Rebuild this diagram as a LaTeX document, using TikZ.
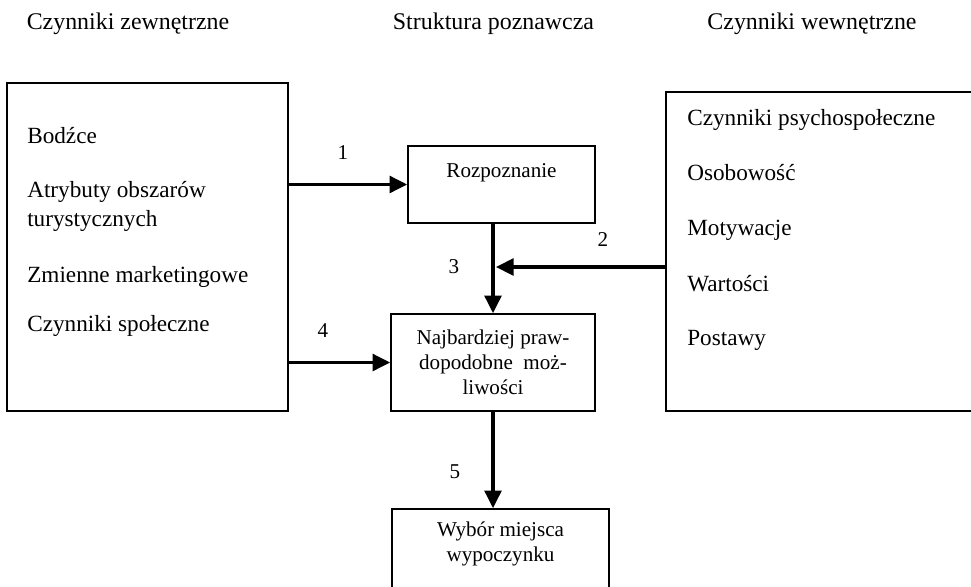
\documentclass[tikz,border=0pt]{standalone}
\usepackage{fontspec}
\setmainfont{Liberation Serif}
\usetikzlibrary{positioning,arrows.meta}

\begin{document}
\begin{tikzpicture}[x=0.025cm, y=-0.025cm,
      blok/.style={draw, line width=1.2pt, inner sep=0pt},
      pil/.style={line width=2.2pt, -{Triangle[length=12.5pt,width=12pt]}},
      tytul/.style={anchor=base, font=\fontsize{17}{20}\selectfont},
      lista/.style={anchor=north west, inner sep=0pt, align=left,
                    font=\fontsize{16.5}{20.6}\selectfont},
      srodek/.style={anchor=north, inner sep=0pt, align=center,
                     font=\fontsize{15}{17.8}\selectfont},
      nr/.style={font=\fontsize{15}{17}\selectfont, inner sep=0pt}]
    \useasboundingbox (0,0) rectangle (971,586);
    \clip (0,0) rectangle (971,586);

    % naglowki
    \node[tytul] (hZew) at (128,29)   {Czynniki zewnętrzne};
    \node[tytul] (hStr) at (493.5,29) {Struktura poznawcza};
    \node[tytul] (hWew) at (812,29)   {Czynniki wewnętrzne};

    % ramki
    \node[blok, minimum width=7.025cm, minimum height=8.2cm]   (zew) at (147.5,247)  {};
    \node[blok, minimum width=8.35cm,  minimum height=7.975cm] (wew) at (833,251.5)  {};
    \node[blok, minimum width=4.675cm, minimum height=1.925cm] (roz) at (501.5,184.5) {};
    \node[blok, minimum width=5.1cm,   minimum height=2.425cm] (naj) at (493,362.5)  {};
    \node[blok, minimum width=5.425cm, minimum height=2.775cm] (wyb) at (500.5,564.5) {};

    % teksty
    \node[lista] (tZew) at (27,127) {Bodźce\\[18pt]
        Atrybuty obszarów\\turystycznych\\[19pt]
        Zmienne marketingowe\\[14pt]
        Czynniki społeczne};
    \node[lista] (tWew) at (687,109) {Czynniki psychospołeczne\\[18.5pt]
        Osobowość\\[18.5pt]
        Motywacje\\[19pt]
        Wartości\\[18pt]
        Postawy};
    \node[srodek] (tRoz) at (501.5,163) {Rozpoznanie};
    \node[srodek] (tNaj) at (493,330) {Najbardziej praw-\\dopodobne\ \ moż-\\liwości};
    \node[srodek] (tWyb) at (500.5,522) {Wybór miejsca\\wypoczynku};

    % strzalki
    \coordinate (j) at (496,267);
    \draw[pil] (zew.east |- roz.west) -- (roz.west);
    \draw[pil] (wew.west |- j) -- (j);
    \draw[pil] (roz.south -| naj.north) -- (naj.north);
    \draw[pil] (zew.east |- naj.west) -- (naj.west);
    \draw[pil] (naj.south) -- (naj.south |- wyb.north);

    % numery
    \node[nr] (n1) at (343,153) {1};
    \node[nr] (n2) at (603,240) {2};
    \node[nr] (n3) at (454,267) {3};
    \node[nr] (n4) at (323,331) {4};
    \node[nr] (n5) at (455,472) {5};
  \end{tikzpicture}
\end{document}
